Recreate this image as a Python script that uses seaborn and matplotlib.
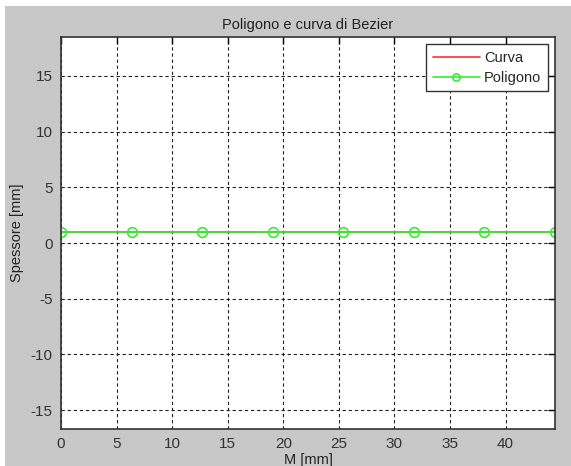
import matplotlib
matplotlib.use("Agg")
import matplotlib.pyplot as plt
import seaborn as sns
import pandas as pd
from matplotlib.patches import Rectangle

# Data
curve_x = [0, 6.35, 12.7, 19.05, 25.4, 31.75, 38.1, 44.45]
curve_y = [1, 1, 1, 1, 1, 1, 1, 1]
poly_x = [0, 6.35, 12.7, 19.05, 25.4, 31.75, 38.1, 44.45]
poly_y = [1, 1, 1, 1, 1, 1, 1, 1]
x_ticks = [0, 5, 10, 15, 20, 25, 30, 35, 40]
y_ticks = [-15, -10, -5, 0, 5, 10, 15]

sns.set_style("white")
plt.rcParams['font.family'] = ['Liberation Sans', 'DejaVu Sans']
plt.rcParams['axes.unicode_minus'] = False

fig = plt.figure(figsize=(5.71, 4.66), dpi=100, facecolor='white')
fig.patches.append(Rectangle((5/571, 0), 1, 1 - 6/466, transform=fig.transFigure,
                             facecolor='#c8c8c8', edgecolor='none', zorder=-10))
ax = fig.add_axes([61/571, 1 - 429/466, (555 - 61)/571, (429 - 37)/466])
ax.set_facecolor('white')

df_c = pd.DataFrame({'x': curve_x, 'y': curve_y})
df_p = pd.DataFrame({'x': poly_x, 'y': poly_y})
sns.lineplot(data=df_c, x='x', y='y', ax=ax, color='#ff3030', linewidth=1.2,
             label='Curva', estimator=None, sort=False)
sns.lineplot(data=df_p, x='x', y='y', ax=ax, color='#33ee33', linewidth=1.2,
             marker='o', markersize=7, markerfacecolor='none',
             markeredgecolor='#33ee33', markeredgewidth=1.2,
             label='Poligono', estimator=None, sort=False)

ax.set_xlim(0, 44.45)
ax.set_ylim(-16.7, 18.5)
ax.set_xticks(x_ticks)
ax.set_yticks(y_ticks)
ax.grid(True, color='#222222', linestyle=(0, (3, 2.5)), linewidth=0.8)
ax.set_axisbelow(True)
ax.tick_params(direction='in', length=5, width=1, top=True, right=True,
               labelsize=11, pad=6)
ax.tick_params(axis='both', colors='black', labelcolor='#333333')
for s in ax.spines.values():
    s.set_color('#333333')
    s.set_linewidth(1.2)

ax.set_title('Poligono e curva di Bezier', fontsize=10.5, pad=6, color='#222222')
ax.set_xlabel('M [mm]', fontsize=10.5, labelpad=1, color='#222222')
ax.set_ylabel('Spessore [mm]', fontsize=10.5, labelpad=5, color='#222222')

leg = ax.legend(loc='upper right', fontsize=10.5, fancybox=False, framealpha=1,
                edgecolor='#333333', borderaxespad=0.5, handlelength=3.2,
                borderpad=0.45, labelspacing=0.4, handletextpad=0.3,
                markerscale=0.75)
leg.get_frame().set_linewidth(1.0)

fig.savefig('out.png', dpi=100, facecolor=fig.get_facecolor())
